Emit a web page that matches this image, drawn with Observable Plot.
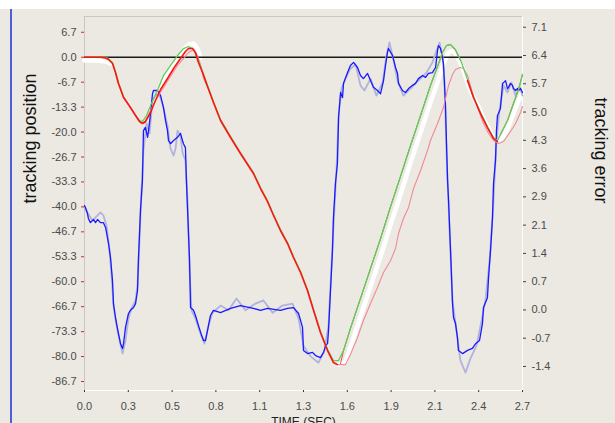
<!DOCTYPE html>
<html>
<head>
<meta charset="utf-8">
<script src="https://cdn.jsdelivr.net/npm/d3@7"></script>
<script src="https://cdn.jsdelivr.net/npm/@observablehq/plot@0.6"></script>
<style>
  html, body { margin: 0; padding: 0; }
  body { width: 615px; height: 423px; overflow: hidden; background: #ece9e2; position: relative; font-family: "Liberation Sans", Arial, sans-serif; }
  #topstrip { position: absolute; left: 0; top: 0; width: 615px; height: 9px; background: #ffffff; }
  #edge { position: absolute; left: 10px; top: 9px; width: 2px; height: 414px; background: #4a5fd8; }
  #chart { position: absolute; left: 0; top: 0; }
</style>
</head>
<body>
<div id="topstrip"></div>
<div id="edge"></div>
<div id="chart"></div>
<script>
// ---- axis ticks and labels ----
const xTicks = [0, 0.266, 0.532, 0.798, 1.064, 1.33, 1.596, 1.862, 2.128, 2.394, 2.66];
const xLabels = ["0.0","0.3","0.5","0.8","1.1","1.3","1.6","1.9","2.1","2.4","2.7"];
const posTicks = [6.667, 0, -6.667, -13.333, -20, -26.667, -33.333, -40, -46.667, -53.333, -60, -66.667, -73.333, -80, -86.667];
const posLabels = ["6.7","0.0","-6.7","-13.3","-20.0","-26.7","-33.3","-40.0","-46.7","-53.3","-60.0","-66.7","-73.3","-80.0","-86.7"];
const errTicks = [7.125, 6.4125, 5.7, 4.9875, 4.275, 3.5625, 2.85, 2.1375, 1.425, 0.7125, 0, -0.7125, -1.425];
const errLabels = ["7.1","6.4","5.7","5.0","4.3","3.6","2.9","2.1","1.4","0.7","0.0","-0.7","-1.4"];

// ---- tracking position series (left axis) ----
const redT = [0,0.097,0.128,0.146,0.170,0.188,0.206,0.237,0.279,0.310,
  0.334,0.352,0.370,0.401,0.431,0.462,0.504,0.541,0.583,0.613,
  0.632,0.656,0.674,0.692,0.717,0.747,0.783,0.826,0.887,0.947,
  1.026,1.069,1.111,1.148,1.190,1.233,1.269,1.312,1.354,1.391,
  1.433,1.476,1.512,1.536,1.555,1.573,1.615,1.676,1.737,1.798,
  1.859,1.919,1.980,2.041,2.101,2.144,2.174,2.198,2.223,2.253,
  2.283,2.326,2.362,2.405,2.447,2.484,2.508,2.526,2.569,2.605,
  2.636,2.660];
const redV = [0,0,-0.21,-0.61,-1.68,-4.09,-7.03,-10.77,-13.44,-15.58,
  -17.18,-17.72,-17.18,-14.78,-11.57,-8.63,-5.69,-3.02,-0.35,1.52,
  2.32,2.32,1.26,-1.42,-4.09,-7.83,-12.11,-16.92,-21.46,-25.74,
  -31.08,-35.09,-38.56,-42.30,-46.31,-49.79,-53.53,-57.54,-62.35,-67.69,
  -73.58,-78.40,-81.61,-82.15,-81.88,-78.40,-72.50,-64.49,-56.47,-48.45,
  -39.90,-31.88,-23.60,-15.58,-7.56,-2.49,1.26,3.13,3.39,1.79,
  -0.88,-6.23,-10.77,-15.05,-18.79,-21.73,-22.53,-20.66,-16.92,-12.37,
  -8.63,-4.62];

const greenT = [0,0.097,0.140,0.170,0.188,0.206,0.237,0.279,0.310,0.334,
  0.352,0.377,0.401,0.443,0.480,0.522,0.565,0.601,0.632,0.662,
  0.692,0.717,0.747,0.783,0.826,0.887,0.947,1.026,1.069,1.111,
  1.148,1.190,1.233,1.269,1.312,1.354,1.391,1.433,1.476,1.512,
  1.543,1.573,1.615,1.676,1.737,1.798,1.859,1.919,1.980,2.041,
  2.101,2.144,2.174,2.198,2.223,2.253,2.283,2.326,2.362,2.405,
  2.447,2.484,2.508,2.526,2.569,2.605,2.636,2.660];
const greenV = [0,0.05,-0.21,-1.42,-3.82,-6.76,-10.50,-13.44,-15.58,-16.92,
  -17.18,-15.58,-12.91,-8.90,-4.89,-2.22,0.45,2.32,2.86,2.06,
  -0.88,-3.82,-7.56,-11.84,-16.65,-21.19,-25.47,-30.81,-34.82,-38.29,
  -42.04,-46.04,-49.52,-53.26,-57.27,-62.08,-67.43,-73.31,-78.13,-81.07,
  -81.07,-78.40,-72.50,-64.49,-56.47,-48.45,-39.90,-31.88,-23.60,-15.58,
  -7.56,-2.49,1.26,3.13,3.39,2.06,-0.61,-5.96,-10.50,-14.78,
  -18.52,-21.46,-22.26,-20.66,-16.92,-12.37,-8.63,-4.62];

const pinkAT = [0.352,0.370,0.389,0.419,0.449,0.480,0.522,0.565,0.601,0.632,0.662,0.686,0.704,0.723,0.747];
const pinkAV = [-17.72,-17.45,-15.31,-12.64,-10.24,-8.10,-5.16,-2.22,-0.35,1.26,2.06,0.45,-1.95,-5.69,-7.83];
const pinkBT = [1.512,1.536,1.585,1.615,1.658,1.694,1.737,1.779,1.816,1.859,
  1.889,1.907,1.937,1.968,1.998,2.041,2.083,2.101,2.144,2.180,
  2.211,2.235,2.253,2.283,2.302,2.326,2.344,2.362,2.393,2.423,
  2.454,2.484,2.514,2.545,2.587,2.618,2.648,2.660];
const pinkBV = [-81.61,-82.15,-82.15,-79.47,-74.92,-70.37,-65.82,-61.55,-57.54,-54.33,
  -51.12,-47.11,-43.10,-40.16,-35.09,-30.28,-24.94,-22.26,-17.72,-13.44,
  -7.56,-4.62,-3.29,-2.75,-3.02,-4.89,-7.56,-10.24,-14.24,-17.72,
  -20.39,-22.26,-23.07,-22.53,-19.86,-17.72,-14.78,-13.17];

const whiteAT = [0,0.067,0.128,0.158];
const whiteAV = [-0.88,-0.88,-1.15,-1.68];
const whiteBT = [0.401,0.443,0.480,0.522,0.565,0.601,0.632,0.662,0.686,0.704];
const whiteBV = [-13.71,-9.97,-6.49,-3.29,-0.61,2.06,3.39,3.66,2.32,-0.08];
const whiteCT = [1.543,1.585,1.627,1.676,1.737,1.798,1.859,1.919,1.980,2.041,
  2.101,2.144,2.180,2.211,2.241,2.271,2.302,2.332,2.362,2.393,
  2.423,2.454,2.484,2.514,2.545,2.575,2.605,2.636,2.660];
const whiteCV = [-82.15,-81.34,-75.99,-69.30,-61.28,-53.26,-44.71,-36.69,-28.14,-20.12,
  -12.11,-6.76,-1.68,1.26,1.79,-0.35,-3.55,-7.56,-10.77,-13.17,
  -16.38,-19.06,-21.46,-22.26,-21.19,-18.52,-15.05,-11.57,-9.44];

// ---- tracking error series (right axis) ----
const blueT = [0.000,0.006,0.018,0.024,0.036,0.055,0.067,0.079,0.097,0.115,
  0.128,0.146,0.158,0.170,0.176,0.188,0.206,0.219,0.231,0.237,
  0.249,0.267,0.279,0.298,0.310,0.322,0.328,0.340,0.352,0.358,
  0.370,0.383,0.389,0.401,0.413,0.419,0.443,0.462,0.480,0.492,
  0.504,0.510,0.522,0.541,0.565,0.583,0.595,0.601,0.613,0.619,
  0.626,0.638,0.644,0.662,0.674,0.692,0.711,0.723,0.735,0.747,
  0.765,0.783,0.826,0.887,0.947,1.026,1.069,1.111,1.190,1.233,
  1.269,1.300,1.324,1.330,1.354,1.385,1.403,1.433,1.452,1.464,
  1.476,1.482,1.494,1.506,1.512,1.524,1.536,1.543,1.555,1.567,
  1.573,1.597,1.615,1.634,1.658,1.676,1.694,1.719,1.737,1.755,
  1.779,1.798,1.816,1.828,1.840,1.846,1.871,1.889,1.901,1.907,
  1.931,1.949,1.968,1.992,2.010,2.028,2.053,2.071,2.089,2.113,
  2.132,2.144,2.150,2.162,2.174,2.180,2.192,2.198,2.205,2.211,
  2.223,2.235,2.241,2.253,2.265,2.271,2.296,2.326,2.356,2.375,
  2.399,2.417,2.423,2.447,2.454,2.466,2.478,2.484,2.496,2.502,
  2.508,2.514,2.526,2.539,2.545,2.557,2.569,2.575,2.587,2.599,
  2.605,2.618,2.630,2.636,2.648,2.660];
const blueR = [2.63,2.58,2.43,2.30,2.20,2.28,2.20,2.28,2.20,2.20,
  2.08,1.67,1.32,0.74,0.16,-0.19,-0.59,-0.85,-0.97,-0.85,
  -0.44,-0.09,-0.01,0.06,0.16,0.49,1.32,2.51,3.26,4.52,
  4.60,4.35,4.52,4.95,5.45,5.53,5.53,5.40,5.10,4.77,
  4.52,4.27,4.19,4.27,4.35,4.45,4.27,4.19,4.09,3.26,
  2.51,1.25,0.06,-0.01,-0.14,-0.39,-0.64,-0.77,-0.77,-0.52,
  -0.14,-0.01,-0.07,0.04,0.11,0.04,-0.01,0.04,-0.01,0.04,
  0.06,-0.09,-0.44,-1.02,-1.10,-1.07,-1.15,-1.20,-1.07,-0.90,
  -0.85,-0.52,0.49,1.50,2.33,3.19,3.69,4.85,5.48,5.35,
  5.71,5.98,6.16,6.24,6.11,5.91,5.83,5.96,5.78,5.61,
  5.53,5.45,5.78,6.16,6.49,6.59,6.41,6.11,5.96,5.71,
  5.53,5.48,5.58,5.66,5.71,5.83,5.91,5.86,5.96,5.98,
  6.11,6.54,6.66,6.59,6.36,6.21,5.20,4.27,3.26,2.76,
  1.50,0.16,-0.19,-0.34,-0.70,-1.02,-1.10,-1.02,-0.97,-0.85,
  -0.77,-0.34,0.06,0.31,0.82,1.50,2.33,3.19,3.77,4.52,
  4.90,4.95,5.08,5.71,5.73,5.78,5.58,5.61,5.71,5.66,
  5.58,5.53,5.58,5.53,5.58,5.48];

const lavT = [0.000,0.024,0.049,0.073,0.097,0.115,0.134,0.152,0.164,0.176,
  0.194,0.213,0.231,0.249,0.267,0.285,0.310,0.322,0.334,0.346,
  0.358,0.377,0.395,0.413,0.437,0.462,0.486,0.504,0.522,0.541,
  0.553,0.565,0.583,0.595,0.613,0.626,0.638,0.650,0.674,0.704,
  0.729,0.753,0.777,0.826,0.875,0.923,0.978,1.038,1.087,1.142,
  1.202,1.263,1.300,1.330,1.373,1.421,1.458,1.482,1.506,1.530,
  1.543,1.561,1.585,1.615,1.646,1.676,1.700,1.737,1.773,1.810,
  1.834,1.852,1.877,1.901,1.937,1.980,2.028,2.077,2.113,2.138,
  2.156,2.174,2.186,2.198,2.217,2.235,2.259,2.283,2.314,2.344,
  2.381,2.411,2.435,2.460,2.484,2.502,2.520,2.545,2.569,2.593,
  2.618,2.642,2.660];
const lavR = [2.58,2.41,2.25,2.36,2.46,2.38,2.13,1.50,0.87,0.11,
  -0.39,-0.77,-1.10,-0.77,-0.22,0.04,0.24,0.62,1.75,3.01,
  4.02,4.70,4.45,5.28,5.45,5.35,4.98,4.65,4.07,3.89,
  4.07,4.52,4.40,3.97,3.77,2.76,0.99,-0.01,-0.22,-0.59,
  -0.85,-0.39,-0.07,0.11,-0.01,0.29,-0.01,0.16,0.24,-0.07,
  0.11,0.16,-0.22,-0.90,-1.17,-1.33,-1.02,-0.39,1.62,3.51,
  4.90,5.58,5.83,6.08,6.19,5.66,5.53,5.83,5.40,5.73,
  6.41,6.74,6.29,5.78,5.40,5.58,5.78,5.98,6.24,6.54,
  6.74,6.41,5.78,4.02,2.00,0.24,-0.52,-1.28,-1.58,-1.22,
  -0.90,-0.27,0.24,1.25,2.76,4.27,5.03,5.66,5.48,5.73,
  5.40,5.63,5.40];

// ---- build tables ----
const pts = (T, V, seg = "a") => T.slice(0, Math.min(T.length, V.length)).map((t, i) => ({t, v: V[i], seg}));
const red = pts(redT, redV);
const green = pts(greenT, greenV);
const pink = [...pts(pinkAT, pinkAV, "a"), ...pts(pinkBT, pinkBV, "b")];
const white = [...pts(whiteAT, whiteAV, "a"), ...pts(whiteBT, whiteBV, "b"), ...pts(whiteCT, whiteCV, "c")];
const blue = pts(blueT, blueR);
const lav = pts(lavT, lavR);

// secondary (right) axis mapped onto the left axis units
const errToPos = d3.scaleLinear().domain([0, 7.125]).range([-67.54, 8.01]);
const yDomain = [-89.07, 10.88];
const xDomain = [0, 2.66];

// where the red trace is drawn above the green one
const redOnTop = d => (d.t <= 1.55 || (d.t >= 2.29 && d.t <= 2.51)) ? d.v : NaN;
const redBelow = d => (d.t <= 1.55 || (d.t >= 2.29 && d.t <= 2.51)) ? NaN : d.v;

const chart = Plot.plot({
  width: 615,
  height: 423,
  marginLeft: 84,
  marginRight: 93,
  marginTop: 16,
  marginBottom: 33,
  style: {background: "transparent", fontFamily: "'Liberation Sans', Arial, sans-serif", fontSize: "11px", color: "#4a4a4a"},
  x: {domain: xDomain, axis: null},
  y: {domain: yDomain, axis: null},
  marks: [
    Plot.ruleY([yDomain[1]], {stroke: "#c9c7c0"}),
    Plot.ruleX([xDomain[0]], {stroke: "#c9c7c0"}),
    Plot.ruleY([yDomain[0]], {stroke: "#ffffff"}),
    Plot.ruleX([xDomain[1]], {stroke: "#ffffff"}),
    Plot.line(white, {x: "t", y: "v", z: "seg", stroke: "#ffffff", strokeWidth: 4.5}),
    Plot.ruleY([0], {stroke: "#1a1a1a", strokeWidth: 1.4}),
    Plot.line(lav, {x: "t", y: d => errToPos(d.v), stroke: "#b0b3dc", strokeWidth: 1.8}),
    Plot.line(blue, {x: "t", y: d => errToPos(d.v), stroke: "#1a1aff", strokeWidth: 1.3}),
    Plot.line(pink, {x: "t", y: "v", z: "seg", stroke: "#f08a98", strokeWidth: 1.1}),
    Plot.line(red, {x: "t", y: redBelow, stroke: "#ff1a1a", strokeWidth: 0.8}),
    Plot.line(green, {x: "t", y: "v", stroke: "#5ccf5c", strokeWidth: 1.3}),
    Plot.line(red, {x: "t", y: redOnTop, stroke: "#ff1414", strokeWidth: 1.6}),
    Plot.axisY({ticks: posTicks, anchor: "left", tickSize: 3, tickPadding: 5, stroke: "#c03030", fill: "#4a4a4a",
      tickFormat: (d, i) => posLabels[i], label: null}),
    Plot.axisY({ticks: errTicks.map(errToPos), anchor: "right", tickSize: 3, tickPadding: 6, stroke: "#444", fill: "#4a4a4a",
      tickFormat: (d, i) => errLabels[i], label: null}),
    Plot.axisX({ticks: xTicks, anchor: "bottom", tickSize: 2, tickPadding: 10, stroke: "#333", fill: "#4a4a4a",
      tickFormat: (d, i) => xLabels[i], label: null}),
    Plot.text(["tracking position"], {text: d => d, frameAnchor: "left", dx: -54, rotate: -90, fontSize: 18, fill: "#111"}),
    Plot.text(["tracking error"], {text: d => d, frameAnchor: "right", dx: 78, rotate: 90, fontSize: 18, fill: "#111"}),
    Plot.text(["TIME (SEC)"], {text: d => d, frameAnchor: "bottom", dy: 27, lineAnchor: "top", fontSize: 12, fill: "#222"})
  ]
});
document.getElementById("chart").appendChild(chart);
</script>
</body>
</html>
